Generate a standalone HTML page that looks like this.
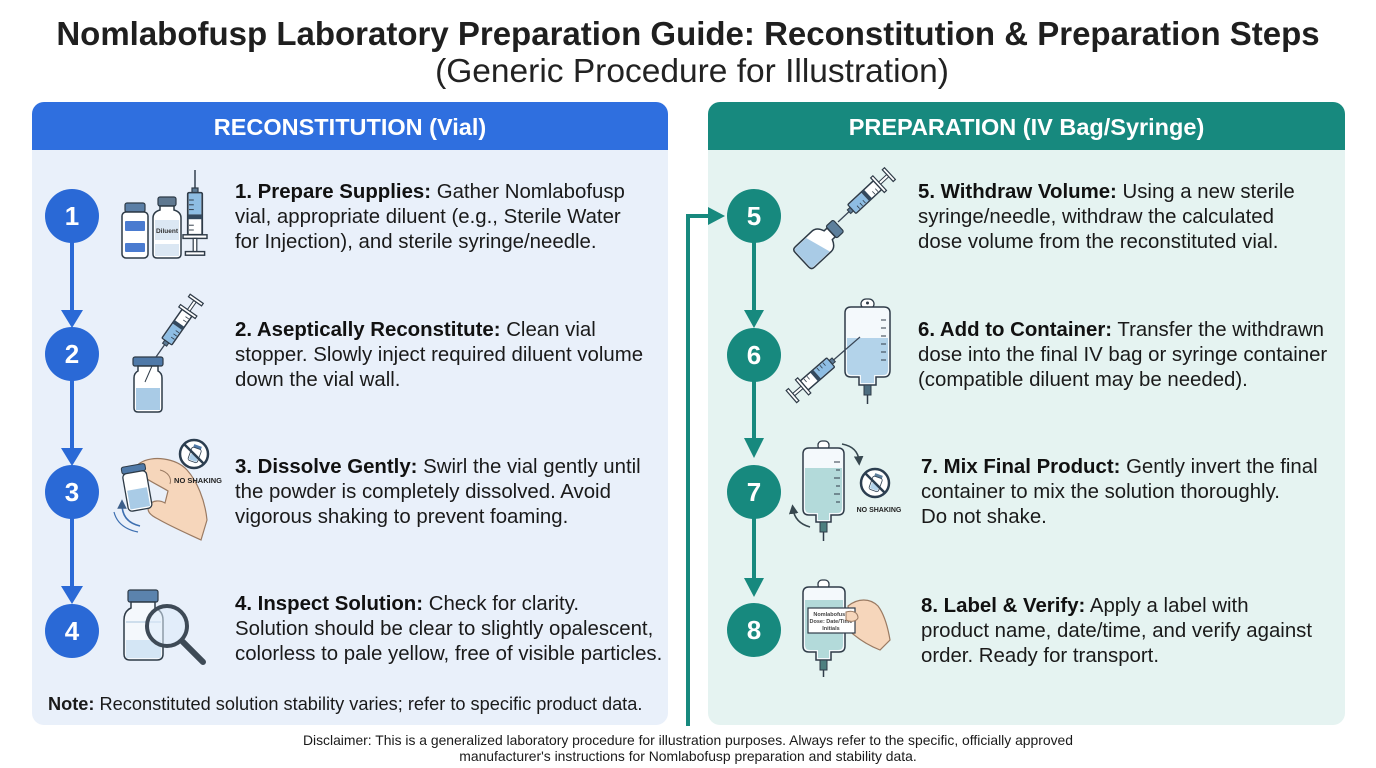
<!DOCTYPE html>
<html><head><meta charset="utf-8"><style>
*{margin:0;padding:0;box-sizing:border-box}
body{width:1376px;height:768px;background:#fff;position:relative;overflow:hidden;font-family:"Liberation Sans",Arial,sans-serif;color:#1c1c1c}
.t{position:absolute;white-space:nowrap}
.step{position:absolute;font-size:20.4px;line-height:25px;white-space:nowrap;color:#1a1a1a}
.step b{font-weight:700;color:#111}
</style></head><body>
<svg width="1376" height="768" style="position:absolute;left:0;top:0" xmlns="http://www.w3.org/2000/svg">
<defs>
  <g id="syr">
    <line x1="0" y1="0" x2="0" y2="-15" stroke="#3a4656" stroke-width="1.3"/>
    <rect x="-2.5" y="-19" width="5" height="4" fill="#5d7a94" stroke="#2f3b48" stroke-width="1"/>
    <rect x="-6" y="-54" width="12" height="35" rx="1" fill="#fff" stroke="#2f3b48" stroke-width="1.5"/>
    <rect x="-5.2" y="-37" width="10.4" height="17.5" fill="#8ebde3"/>
    <rect x="-6" y="-41" width="12" height="4" fill="#34495e"/>
    <line x1="1" y1="-50" x2="5" y2="-50" stroke="#2f3b48" stroke-width="0.8"/>
    <line x1="1" y1="-46" x2="5" y2="-46" stroke="#2f3b48" stroke-width="0.8"/>
    <line x1="1" y1="-33" x2="5" y2="-33" stroke="#2f3b48" stroke-width="0.8"/>
    <line x1="1" y1="-29" x2="5" y2="-29" stroke="#2f3b48" stroke-width="0.8"/>
    <line x1="1" y1="-25" x2="5" y2="-25" stroke="#2f3b48" stroke-width="0.8"/>
    <rect x="-10" y="-57" width="20" height="3" fill="#fff" stroke="#2f3b48" stroke-width="1.2"/>
    <rect x="-1.5" y="-68" width="3" height="11" fill="#fff" stroke="#2f3b48" stroke-width="1"/>
    <rect x="-8" y="-71" width="16" height="3" fill="#fff" stroke="#2f3b48" stroke-width="1.2"/>
  </g>
  <marker id="ah" markerWidth="6" markerHeight="6" refX="3" refY="3" orient="auto">
    <path d="M0,0 L6,3 L0,6 Z" fill="#3d5f8a"/>
  </marker>
  <marker id="ah2" markerWidth="6" markerHeight="6" refX="3" refY="3" orient="auto">
    <path d="M0,0 L6,3 L0,6 Z" fill="#37474f"/>
  </marker>
</defs>

<!-- Left panel -->
<rect x="32" y="102" width="636" height="623" rx="12" fill="#e9f0fa"/>
<path d="M32,150 V114 A12,12 0 0 1 44,102 H656 A12,12 0 0 1 668,114 V150 Z" fill="#2f6fdf"/>
<!-- Right panel -->
<rect x="708" y="102" width="637" height="623" rx="12" fill="#e5f3f1"/>
<path d="M708,150 V114 A12,12 0 0 1 720,102 H1333 A12,12 0 0 1 1345,114 V150 Z" fill="#17897e"/>

<!-- Left flow -->
<g stroke="#2a69d6" stroke-width="4">
  <line x1="72" y1="240" x2="72" y2="312"/>
  <line x1="72" y1="378" x2="72" y2="450"/>
  <line x1="72" y1="517" x2="72" y2="588"/>
</g>
<g fill="#2a69d6">
  <polygon points="61,310 83,310 72,328"/>
  <polygon points="61,448 83,448 72,466"/>
  <polygon points="61,586 83,586 72,604"/>
  <circle cx="72" cy="216" r="27"/>
  <circle cx="72" cy="354" r="27"/>
  <circle cx="72" cy="492" r="27"/>
  <circle cx="72" cy="631" r="27"/>
</g>
<g fill="#fff" font-family="Liberation Sans, Arial, sans-serif" font-weight="700" font-size="26" text-anchor="middle">
  <text x="72" y="225">1</text>
  <text x="72" y="363">2</text>
  <text x="72" y="501">3</text>
  <text x="72" y="640">4</text>
</g>

<!-- Right flow -->
<g stroke="#17897e" stroke-width="4">
  <line x1="754" y1="240" x2="754" y2="312"/>
  <line x1="754" y1="380" x2="754" y2="440"/>
  <line x1="754" y1="517" x2="754" y2="580"/>
</g>
<g fill="#17897e">
  <polygon points="744,310 764,310 754,328"/>
  <polygon points="744,438 764,438 754,458"/>
  <polygon points="744,578 764,578 754,597"/>
  <circle cx="754" cy="216" r="27"/>
  <circle cx="754" cy="355" r="27"/>
  <circle cx="754" cy="492" r="27"/>
  <circle cx="754" cy="630" r="27"/>
</g>
<g fill="#fff" font-family="Liberation Sans, Arial, sans-serif" font-weight="700" font-size="26" text-anchor="middle">
  <text x="754" y="225">5</text>
  <text x="754" y="364">6</text>
  <text x="754" y="501">7</text>
  <text x="754" y="639">8</text>
</g>

<!-- Connector -->
<polyline points="688,726 688,216 710,216" fill="none" stroke="#17897e" stroke-width="4"/>
<polygon points="708,207 708,225 725,216" fill="#17897e"/>

<!-- Step 1 icon -->
<rect x="125" y="203" width="20" height="9" rx="2" fill="#5b7fa6" stroke="#2d3a46" stroke-width="1.2"/>
<rect x="122" y="212" width="26" height="46" rx="4" fill="#fff" stroke="#2d3a46" stroke-width="1.5"/>
<rect x="125" y="221" width="20" height="10" rx="1" fill="#4a7bd0"/>
<rect x="125" y="243" width="20" height="9" rx="1" fill="#4a7bd0"/>
<rect x="158" y="197" width="18" height="9" rx="2" fill="#5f7890" stroke="#2d3a46" stroke-width="1.2"/>
<path d="M160,206 H174 V210 Q181,212 181,218 V254 Q181,258 177,258 H157 Q153,258 153,254 V218 Q153,212 160,210 Z" fill="#fff" stroke="#2d3a46" stroke-width="1.5"/>
<rect x="155" y="220" width="24" height="20" fill="#dbe7f3"/>
<rect x="155" y="244" width="24" height="12" fill="#dbe7f3"/>
<text x="167" y="233" font-family="Liberation Sans, Arial, sans-serif" font-size="6.5" font-weight="700" text-anchor="middle" fill="#333">Diluent</text>
<use href="#syr" transform="translate(195,170) rotate(180) scale(1.2)"/>

<!-- Step 2 icon -->
<rect x="133" y="357" width="30" height="9" rx="2" fill="#4f79a8" stroke="#2d3a46" stroke-width="1.2"/>
<path d="M138,366 H158 V371 Q162,373 162,378 V408 Q162,412 158,412 H138 Q134,412 134,408 V378 Q134,373 138,371 Z" fill="#fff" stroke="#2d3a46" stroke-width="1.5"/>
<rect x="136" y="388" width="24" height="22" fill="#a9cbe6"/>
<line x1="152" y1="366" x2="145" y2="382" stroke="#2d3a46" stroke-width="1"/>
<use href="#syr" transform="translate(156,357) rotate(35)"/>

<!-- Step 3 icon -->
<path d="M140,463 C152,455 176,458 187,470 C197,481 205,500 207,520 L201,540 C186,533 170,526 158,519 C150,515 146,511 149,505 C153,500 160,500 165,503 L168,491 C160,486 149,481 141,475 C135,471 135,466 140,463 Z" fill="#f6d6bb" stroke="#9a7a62" stroke-width="1.2"/>
<g transform="translate(137,489) rotate(-10)">
  <rect x="-12" y="-24" width="24" height="7" rx="2" fill="#4f79a8" stroke="#2d3a46" stroke-width="1"/>
  <rect x="-12" y="-17" width="24" height="38" rx="4" fill="#fff" stroke="#2d3a46" stroke-width="1.3"/>
  <rect x="-10" y="0" width="20" height="19" fill="#a9cbe6"/>
</g>
<path d="M160,470 C168,472 172,478 170,484" fill="none" stroke="#9a7a62" stroke-width="1"/>
<path d="M140,526 Q122,522 122,504" fill="none" stroke="#3d6fb0" stroke-width="1.6" marker-end="url(#ah)"/>
<path d="M138,532 Q118,528 114,512" fill="none" stroke="#3d6fb0" stroke-width="1.2"/>
<circle cx="194" cy="454" r="14" fill="#fff" stroke="#2c3e50" stroke-width="2.5"/>
<g transform="translate(195,454) rotate(20)">
  <rect x="-4" y="-9" width="8" height="3" fill="#4f79a8"/>
  <rect x="-5" y="-6" width="10" height="14" rx="2" fill="#fff" stroke="#2c3e50" stroke-width="0.8"/>
  <rect x="-4" y="1" width="8" height="6" fill="#a9cbe6"/>
</g>
<line x1="184" y1="444" x2="204" y2="464" stroke="#2c3e50" stroke-width="2.5"/>
<text x="198" y="483" font-family="Liberation Sans, Arial, sans-serif" font-size="7.5" font-weight="700" text-anchor="middle" fill="#222">NO SHAKING</text>

<!-- Step 4 icon -->
<rect x="128" y="590" width="30" height="12" rx="2" fill="#5b83ad" stroke="#2d3a46" stroke-width="1.2"/>
<path d="M131,602 H155 V608 Q163,611 163,620 V654 Q163,660 157,660 H130 Q124,660 124,654 V620 Q124,611 131,608 Z" fill="#f4f8fc" stroke="#2d3a46" stroke-width="1.5"/>
<rect x="126" y="640" width="35" height="18" fill="#d4e6f5"/>
<line x1="126" y1="622" x2="161" y2="622" stroke="#a9c3dc" stroke-width="1"/>
<circle cx="167" cy="626" r="20" fill="rgba(220,235,250,0.55)" stroke="#3e4a56" stroke-width="4"/>
<line x1="182" y1="641" x2="203" y2="662" stroke="#3e4a56" stroke-width="6" stroke-linecap="round"/>

<!-- Step 5 icon -->
<g transform="translate(837,227) rotate(47)">
  <rect x="-8" y="-2" width="16" height="10" rx="2" fill="#5d7f9c" stroke="#2d3a46" stroke-width="1.2"/>
  <path d="M-6,8 H6 V12 Q14,15 14,21 V44 Q14,48 10,48 H-10 Q-14,48 -14,44 V21 Q-14,15 -6,12 Z" fill="#fff" stroke="#2d3a46" stroke-width="1.5"/>
  <path d="M-13,30 L13,22 V44 Q13,47 10,47 H-10 Q-13,47 -13,44 Z" fill="#a9cbe6"/>
</g>
<use href="#syr" transform="translate(838,222) rotate(47)"/>

<!-- Step 6 icon -->
<rect x="861" y="299" width="13" height="10" rx="5" fill="#fff" stroke="#2f3b48" stroke-width="1.3"/>
<path d="M851,307 H884 Q890,307 890,313 V370 Q890,377 884,377 H876 V385 H859 V377 H851 Q845,377 845,371 V313 Q845,307 851,307 Z" fill="#f4f9fc" stroke="#2f3b48" stroke-width="1.5"/>
<path d="M847,338 H888 V370 Q888,375 883,375 H874 V383 H861 V375 H852 Q847,375 847,370 Z" fill="#b3d3ea"/>
<g stroke="#2f3b48" stroke-width="1"><line x1="881" y1="320" x2="886" y2="320"/><line x1="881" y1="328" x2="886" y2="328"/><line x1="881" y1="336" x2="886" y2="336"/><line x1="881" y1="344" x2="886" y2="344"/><line x1="881" y1="352" x2="886" y2="352"/><line x1="881" y1="360" x2="886" y2="360"/></g>
<circle cx="867.5" cy="303" r="1.5" fill="#2f3b48"/>
<rect x="864" y="385" width="7" height="10" fill="#4d6d7f" stroke="#2f3b48" stroke-width="1"/>
<line x1="867.5" y1="395" x2="867.5" y2="404" stroke="#2f3b48" stroke-width="1.5"/>
<line x1="845" y1="350" x2="860" y2="337" stroke="#3a4656" stroke-width="1.2"/>
<use href="#syr" transform="translate(845,350) rotate(-131)"/>

<!-- Step 7 icon -->
<rect x="818" y="441" width="11" height="9" rx="4" fill="#fff" stroke="#2f3b48" stroke-width="1.3"/>
<path d="M809,448 H838 Q844,448 844,454 V509 Q844,515 838,515 H831 V522 H816 V515 H809 Q803,515 803,509 V454 Q803,448 809,448 Z" fill="#f4f9fc" stroke="#2f3b48" stroke-width="1.5"/>
<path d="M805,468 H842 V508 Q842,513 837,513 H829 V520 H818 V513 H810 Q805,513 805,508 Z" fill="#b3dada"/>
<g stroke="#2f3b48" stroke-width="1"><line x1="834" y1="462" x2="840" y2="462"/><line x1="836" y1="470" x2="840" y2="470"/><line x1="834" y1="478" x2="840" y2="478"/><line x1="836" y1="486" x2="840" y2="486"/><line x1="834" y1="494" x2="840" y2="494"/><line x1="836" y1="502" x2="840" y2="502"/></g>
<rect x="820" y="522" width="7" height="10" fill="#4d7f7f" stroke="#2f3b48" stroke-width="1"/>
<line x1="823.5" y1="532" x2="823.5" y2="541" stroke="#2f3b48" stroke-width="1.5"/>
<path d="M842,444 Q858,447 859,461" fill="none" stroke="#37474f" stroke-width="1.6" marker-end="url(#ah2)"/>
<path d="M810,527 Q795,523 793,509" fill="none" stroke="#37474f" stroke-width="1.6" marker-end="url(#ah2)"/>
<circle cx="875" cy="483" r="14" fill="#fff" stroke="#2c3e50" stroke-width="2.5"/>
<g transform="translate(876,483) rotate(20)">
  <rect x="-4" y="-9" width="8" height="3" fill="#5d7f9c"/>
  <rect x="-5" y="-6" width="10" height="14" rx="2" fill="#fff" stroke="#2c3e50" stroke-width="0.8"/>
  <rect x="-4" y="1" width="8" height="6" fill="#b3d3ea"/>
</g>
<line x1="865" y1="473" x2="885" y2="493" stroke="#2c3e50" stroke-width="2.5"/>
<text x="879" y="512" font-family="Liberation Sans, Arial, sans-serif" font-size="7" font-weight="700" text-anchor="middle" fill="#222">NO SHAKING</text>

<!-- Step 8 icon -->
<rect x="818" y="580" width="11" height="9" rx="4" fill="#fff" stroke="#2f3b48" stroke-width="1.3"/>
<path d="M809,587 H839 Q845,587 845,593 V646 Q845,652 839,652 H831 V660 H816 V652 H809 Q803,652 803,646 V593 Q803,587 809,587 Z" fill="#f4f9fc" stroke="#2f3b48" stroke-width="1.5"/>
<path d="M805,600 H843 V645 Q843,650 838,650 H829 V658 H818 V650 H810 Q805,650 805,645 Z" fill="#b3dada"/>
<rect x="820" y="660" width="7" height="10" fill="#4d7f7f" stroke="#2f3b48" stroke-width="1"/>
<line x1="823.5" y1="670" x2="823.5" y2="677" stroke="#2f3b48" stroke-width="1.5"/>
<path d="M848,606 C858,598 870,598 878,606 C884,614 888,628 890,640 L880,650 C870,646 860,640 853,634 C848,630 846,624 850,620 Z" fill="#f6d6bb" stroke="#9a7a62" stroke-width="1.2"/>
<rect x="808" y="608" width="47" height="25" fill="#fff" stroke="#2f3b48" stroke-width="1.2"/>
<g font-family="Liberation Sans, Arial, sans-serif" font-size="5.5" font-weight="700" fill="#444" text-anchor="middle">
  <text x="831" y="616">Nomlabofusp</text>
  <text x="831" y="623">Dose: Date/Time</text>
  <text x="831" y="630">Initials</text>
</g>
<path d="M846,612 C852,610 858,612 858,618 C856,622 850,622 846,620 Z" fill="#f6d6bb" stroke="#9a7a62" stroke-width="1"/>
</svg>

<div class="t" style="left:0;width:1376px;top:15px;text-align:center;font-size:33px;font-weight:700;line-height:38px;color:#1f1f1f">Nomlabofusp Laboratory Preparation Guide: Reconstitution &amp; Preparation Steps</div>
<div class="t" style="left:4px;width:1376px;top:52px;text-align:center;font-size:33.5px;line-height:40px;color:#222">(Generic Procedure for Illustration)</div>

<div class="t" style="left:32px;width:636px;top:112px;text-align:center;font-size:23.5px;font-weight:700;line-height:30px;color:#fff">RECONSTITUTION (Vial)</div>
<div class="t" style="left:708px;width:637px;top:112px;text-align:center;font-size:23.5px;font-weight:700;line-height:30px;color:#fff">PREPARATION (IV Bag/Syringe)</div>

<div class="step" style="left:235px;top:180px"><b>1. Prepare Supplies:</b> Gather Nomlabofusp<br>vial, appropriate diluent (e.g., Sterile Water<br>for Injection), and sterile syringe/needle.</div>
<div class="step" style="left:235px;top:318px"><b>2. Aseptically Reconstitute:</b> Clean vial<br>stopper. Slowly inject required diluent volume<br>down the vial wall.</div>
<div class="step" style="left:235px;top:455px"><b>3. Dissolve Gently:</b> Swirl the vial gently until<br>the powder is completely dissolved. Avoid<br>vigorous shaking to prevent foaming.</div>
<div class="step" style="left:235px;top:592px"><b>4. Inspect Solution:</b> Check for clarity.<br>Solution should be clear to slightly opalescent,<br>colorless to pale yellow, free of visible particles.</div>

<div class="step" style="left:918px;top:180px"><b>5. Withdraw Volume:</b> Using a new sterile<br>syringe/needle, withdraw the calculated<br>dose volume from the reconstituted vial.</div>
<div class="step" style="left:918px;top:318px"><b>6. Add to Container:</b> Transfer the withdrawn<br>dose into the final IV bag or syringe container<br>(compatible diluent may be needed).</div>
<div class="step" style="left:921px;top:455px"><b>7. Mix Final Product:</b> Gently invert the final<br>container to mix the solution thoroughly.<br>Do not shake.</div>
<div class="step" style="left:921px;top:594px"><b>8. Label &amp; Verify:</b> Apply a label with<br>product name, date/time, and verify against<br>order. Ready for transport.</div>

<div class="t" style="left:48px;top:693px;font-size:18.2px;line-height:23px;color:#1a1a1a"><b>Note:</b> Reconstituted solution stability varies; refer to specific product data.</div>

<div class="t" style="left:0;width:1376px;top:732px;text-align:center;font-size:13.9px;line-height:16px;color:#1a1a1a">Disclaimer: This is a generalized laboratory procedure for illustration purposes. Always refer to the specific, officially approved<br>manufacturer's instructions for Nomlabofusp preparation and stability data.</div>
</body></html>
